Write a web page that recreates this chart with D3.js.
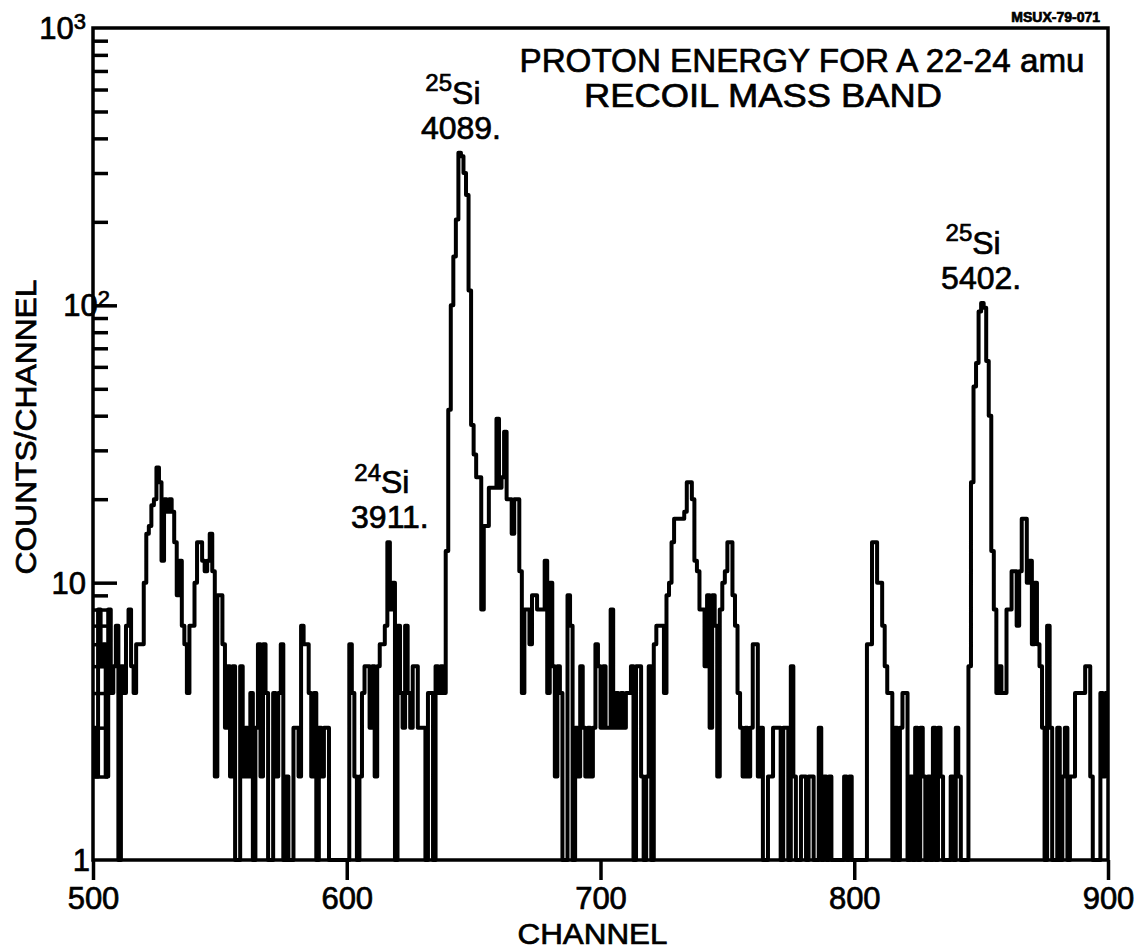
<!DOCTYPE html>
<html>
<head>
    <meta charset="utf-8" />
    <title>Proton energy for a 22-24 amu recoil mass band</title>
    <script src="https://cdn.jsdelivr.net/npm/d3@7"></script>
</head>
<body style="margin:0;background:#fff">
    <style>
        svg text {
            font-family: "Liberation Sans", Arial, sans-serif;
            fill: #000;
            stroke: #000;
            stroke-width: 0.7px;
        }
        .axis path, .axis line {
            stroke: #000;
            stroke-width: 3.5px;
        }
    </style>

    <svg class="chartSVG"></svg>

    <script>
    // channels 500..899, counts per channel (1 = empty, sits on the baseline)
    var firstChannel = 500;
    var counts = [
        3, 2, 8, 5, 6, 2, 8, 4, 5, 7,          // 500
        1, 5, 4, 7, 8, 5, 4, 6, 6, 6,          // 510
        10, 15, 16, 19, 20, 26, 23, 12, 20, 18, // 520
        20, 18, 14, 9, 12, 7, 6, 4, 7, 7,      // 530
        10, 14, 14, 12, 11, 12, 15, 11, 2, 9,  // 540
        9, 6, 3, 5, 2, 5, 1, 1, 5, 2,          // 550
        3, 2, 4, 1, 3, 6, 2, 6, 4, 1,          // 560
        1, 4, 2, 4, 6, 1, 2, 1, 1, 3,          // 570
        3, 2, 7, 6, 6, 4, 2, 4, 1, 3,          // 580
        2, 3, 3, 1, 1, 1, 1, 1, 1, 1,          // 590
        1, 6, 4, 2, 1, 2, 4, 5, 5, 3,          // 600
        5, 2, 5, 6, 6, 7, 14, 8, 10, 1,        // 610
        7, 4, 3, 7, 4, 3, 5, 5, 3, 3,          // 620
        3, 1, 4, 4, 1, 5, 4, 5, 4, 13,         // 630
        42, 100, 150, 204, 355, 345, 300, 250, 113, 37, // 640
        29, 24, 24, 8, 16, 16, 22, 22, 22, 39, // 650
        22, 24, 35, 20, 20, 15, 20, 20, 11, 4, // 660
        8, 8, 6, 9, 9, 8, 8, 8, 12, 4,         // 670
        10, 5, 2, 5, 4, 1, 1, 9, 7, 1,         // 680
        3, 2, 5, 3, 2, 3, 2, 3, 6, 5,          // 690
        3, 5, 3, 3, 8, 3, 4, 3, 4, 3,          // 700
        4, 4, 5, 1, 5, 5, 2, 1, 2, 5,          // 710
        1, 6, 7, 7, 7, 4, 9, 10, 14, 17,       // 720
        17, 17, 17, 18, 23, 23, 20, 12, 11, 8, // 730
        8, 5, 9, 3, 9, 7, 2, 8, 10, 11,        // 740
        14, 14, 9, 7, 4, 3, 2, 3, 2, 3,        // 750
        6, 6, 2, 3, 1, 1, 2, 2, 3, 3,          // 760
        3, 1, 3, 3, 1, 5, 2, 1, 1, 2,          // 770
        2, 1, 2, 2, 1, 1, 3, 1, 2, 1,          // 780
        2, 1, 1, 1, 1, 1, 2, 1, 2, 1,          // 790
        1, 1, 1, 1, 1, 6, 6, 14, 14, 10,       // 800
        10, 7, 5, 4, 4, 1, 3, 1, 3, 4,         // 810
        4, 1, 2, 1, 3, 1, 3, 2, 1, 2,          // 820
        1, 3, 1, 3, 2, 1, 1, 1, 2, 1,          // 830
        3, 2, 1, 1, 1, 5, 23, 51, 62, 95,      // 840
        102, 98, 63, 40, 13, 8, 4, 5, 4, 4,    // 850
        8, 8, 11, 11, 7, 11, 17, 17, 10, 12,   // 860
        6, 10, 6, 5, 3, 1, 7, 3, 1, 1,         // 870
        3, 1, 2, 3, 1, 2, 2, 4, 4, 4,          // 880
        4, 5, 5, 2, 1, 1, 1, 4, 2, 4           // 890
    ];

    var xTicks = [500, 600, 700, 800, 900];
    var yMajor = [1, 10, 100, 1000];
    var yLabels = [["1", ""], ["10", ""], ["10", "2"], ["10", "3"]];
    var peaks = [
        { channel: 645, mass: "25", name: "Si", energy: "4089." },
        { channel: 617, mass: "24", name: "Si", energy: "3911." },
        { channel: 850, mass: "25", name: "Si", energy: "5402." }
    ];
    var title = ["PROTON ENERGY FOR A 22-24 amu", "RECOIL MASS BAND"];

    var width = 1144, height = 949;
    var padL = 93, padR = 1108, padT = 28, padB = 860;

    var svg = d3.select(".chartSVG")
        .attr("width", width)
        .attr("height", height);

    var x = d3.scaleLinear().domain([500, 900]).range([padL, padR]);
    var y = d3.scaleLog().domain([1, 1000]).range([padB, padT]);

    // minor/major ticks on the inside of the left axis
    var minor = [];
    [1, 10, 100].forEach(function (d) {
        for (var m = 2; m <= 9; m++) minor.push(d * m);
    });
    svg.append("g").attr("class", "axis")
        .attr("transform", "translate(" + padL + ",0)")
        .call(d3.axisRight(y).tickValues(minor).tickSize(15).tickFormat(""))
        .select(".domain").remove();
    svg.append("g").attr("class", "axis")
        .attr("transform", "translate(" + padL + ",0)")
        .call(d3.axisRight(y).tickValues([10, 100]).tickSize(24).tickFormat(""))
        .select(".domain").remove();

    // bottom axis, ticks pointing down
    var xAxis = svg.append("g").attr("class", "axis")
        .attr("transform", "translate(0," + padB + ")")
        .call(d3.axisBottom(x).tickValues(xTicks).tickSize(20).tickPadding(6));
    xAxis.select(".domain").remove();
    xAxis.selectAll("text")
        .style("font-size", "31px")
        .attr("dy", "0.75em");

    // frame
    svg.append("rect")
        .attr("x", padL).attr("y", padT)
        .attr("width", padR - padL).attr("height", padB - padT)
        .attr("fill", "none").attr("stroke", "#000").attr("stroke-width", 3.5);

    // y labels with superscript exponents
    var yl = svg.selectAll(".ylab").data(yMajor).enter().append("text")
        .attr("class", "ylab")
        .attr("x", function (d, i) { return i == 2 ? 110 : (i == 0 ? 90 : 86); })
        .attr("y", function (d) { return y(d) + 11; })
        .attr("text-anchor", "end")
        .style("font-size", "31px");
    yl.append("tspan").text(function (d, i) { return yLabels[i][0]; });
    yl.append("tspan")
        .attr("dy", "-0.45em")
        .style("font-size", "22px")
        .text(function (d, i) { return yLabels[i][1]; });

    // histogram
    var pts = counts.map(function (v, i) { return [firstChannel + i, Math.max(v, 1)]; });
    pts.push([firstChannel + counts.length, Math.max(counts[counts.length - 1], 1)]);
    var line = d3.line()
        .x(function (d) { return x(d[0]); })
        .y(function (d) { return y(d[1]); })
        .curve(d3.curveStepAfter);
    svg.append("path")
        .datum(pts)
        .attr("d", line)
        .attr("fill", "none")
        .attr("stroke", "#000")
        .attr("stroke-width", 4)
        .attr("stroke-linejoin", "round");

    // peak labels
    var pk = svg.selectAll(".peak").data(peaks).enter().append("g")
        .attr("transform", function (d) {
            var hi = d3.max(counts.slice(d.channel - 4 - firstChannel, d.channel + 4 - firstChannel));
            return "translate(" + x(d.channel) + "," + (y(hi) - 14) + ")";
        });
    var iso = pk.append("text")
        .attr("x", -8).attr("y", -38)
        .attr("text-anchor", "middle")
        .style("font-size", "32px");
    iso.append("tspan").attr("dy", "-0.4em").style("font-size", "24px")
        .text(function (d) { return d.mass; });
    iso.append("tspan").attr("dy", "0.4em")
        .text(function (d) { return d.name; });
    pk.append("text")
        .attr("x", 0).attr("y", 0)
        .attr("text-anchor", "middle")
        .style("font-size", "32px")
        .text(function (d) { return d.energy; });

    // titles
    svg.append("text")
        .attr("x", 802).attr("y", 72)
        .attr("text-anchor", "middle")
        .style("font-size", "34px")
        .attr("textLength", 565).attr("lengthAdjust", "spacingAndGlyphs")
        .text(title[0]);
    svg.append("text")
        .attr("x", 763).attr("y", 107)
        .attr("text-anchor", "middle")
        .style("font-size", "34px")
        .attr("textLength", 358).attr("lengthAdjust", "spacingAndGlyphs")
        .text(title[1]);
    svg.append("text")
        .attr("x", 1100).attr("y", 22)
        .attr("text-anchor", "end")
        .style("font-size", "14px")
        .style("font-weight", "bold")
        .text("MSUX-79-071");

    svg.append("text")
        .attr("transform", "translate(36," + 427 + ") rotate(-90)")
        .attr("text-anchor", "middle")
        .style("font-size", "30px")
        .attr("textLength", 295).attr("lengthAdjust", "spacingAndGlyphs")
        .text("COUNTS/CHANNEL");
    svg.append("text")
        .attr("x", (padL + padR) / 2 - 8).attr("y", 944)
        .attr("text-anchor", "middle")
        .style("font-size", "30px")
        .attr("textLength", 150).attr("lengthAdjust", "spacingAndGlyphs")
        .text("CHANNEL");
    </script>
</body>
</html>
